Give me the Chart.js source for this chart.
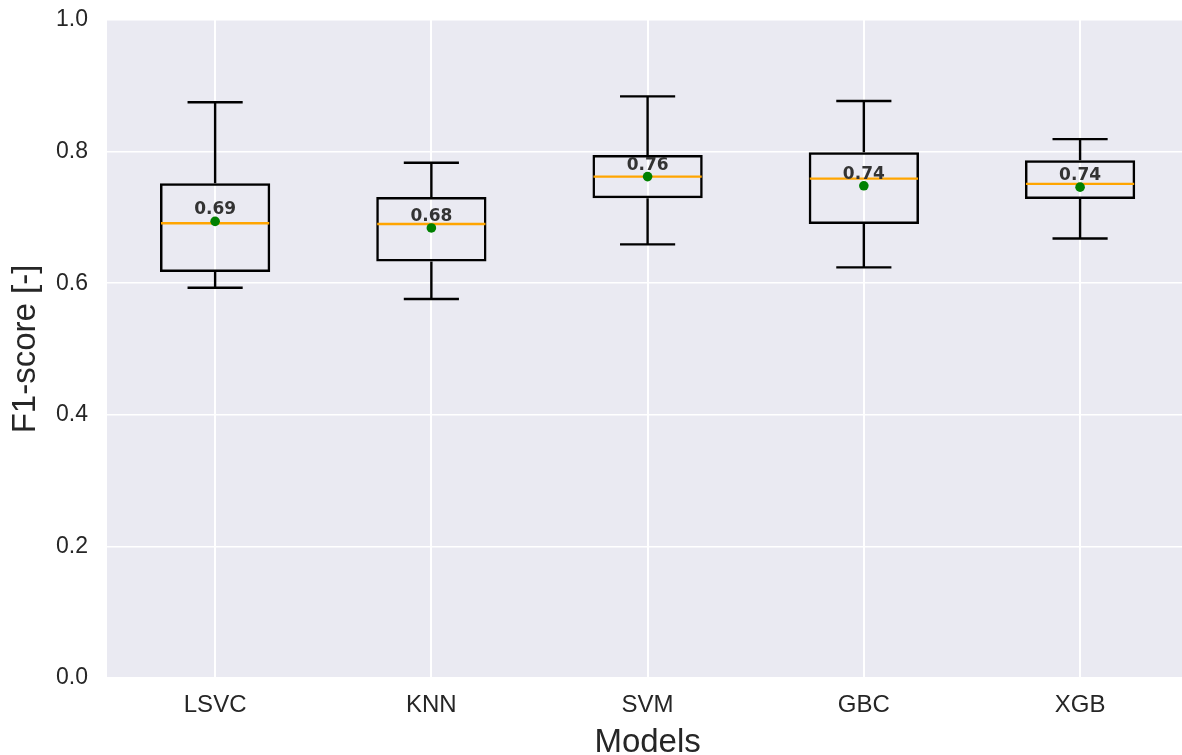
<!DOCTYPE html>
<html>
<head>
<meta charset="utf-8">
<script src="https://cdn.jsdelivr.net/npm/chart.js@4.4.1/dist/chart.umd.min.js"></script>
<style>
html{margin:0;padding:0;overflow:hidden;width:1182px;height:755px;}
body{margin:0;padding:0;background:#ffffff;width:1193px;height:755px;}
#wrap{width:1193px;height:755px;}
canvas{display:block;}
</style>
</head>
<body>
<div id="wrap"><canvas id="c" width="1193" height="755" style="width:1193px;height:755px"></canvas></div>
<script>
const categories = ['LSVC', 'KNN', 'SVM', 'GBC', 'XGB'];
const whiskerLow = [0.593, 0.576, 0.659, 0.624, 0.668];
const q1 = [0.617, 0.633, 0.729, 0.690, 0.728];
const median = [0.691, 0.690, 0.762, 0.759, 0.751];
const q3 = [0.752, 0.731, 0.795, 0.799, 0.787];
const whiskerHigh = [0.875, 0.783, 0.884, 0.877, 0.819];
const means = [0.694, 0.684, 0.762, 0.748, 0.746];
const meanLabels = ['0.69', '0.68', '0.76', '0.74', '0.74'];
const yTicks = [0, 0.2, 0.4, 0.6, 0.8, 1.0];

const bgPlugin = {
  id: 'bg',
  beforeDraw(chart) {
    const {ctx, chartArea: a} = chart;
    ctx.save();
    ctx.fillStyle = '#EAEAF2';
    ctx.fillRect(a.left, a.top, a.right - a.left, a.bottom - a.top);
    ctx.restore();
  }
};

const boxPlugin = {
  id: 'boxparts',
  afterDatasetDraw(chart, args) {
    if (args.index !== 0) return;
    const {ctx} = chart;
    const x = chart.scales.x, y = chart.scales.y;
    const meta = chart.getDatasetMeta(0);
    ctx.save();
    categories.forEach((c, i) => {
      const bar = meta.data[i];
      const cx = x.getPixelForValue(i);
      const w = bar.width;
      const capHalf = w / 4;
      ctx.strokeStyle = '#000000';
      ctx.lineWidth = 2.4;
      ctx.beginPath();
      ctx.moveTo(cx, y.getPixelForValue(q3[i]));
      ctx.lineTo(cx, y.getPixelForValue(whiskerHigh[i]));
      ctx.moveTo(cx, y.getPixelForValue(q1[i]));
      ctx.lineTo(cx, y.getPixelForValue(whiskerLow[i]));
      ctx.moveTo(cx - capHalf, y.getPixelForValue(whiskerHigh[i]));
      ctx.lineTo(cx + capHalf, y.getPixelForValue(whiskerHigh[i]));
      ctx.moveTo(cx - capHalf, y.getPixelForValue(whiskerLow[i]));
      ctx.lineTo(cx + capHalf, y.getPixelForValue(whiskerLow[i]));
      ctx.stroke();
      ctx.strokeStyle = '#FFA500';
      ctx.lineWidth = 2.4;
      ctx.beginPath();
      ctx.moveTo(cx - w / 2 + 1, y.getPixelForValue(median[i]));
      ctx.lineTo(cx + w / 2 - 1, y.getPixelForValue(median[i]));
      ctx.stroke();
    });
    ctx.restore();
  },
  afterDatasetsDraw(chart) {
    const {ctx} = chart;
    const x = chart.scales.x, y = chart.scales.y;
    ctx.save();
    ctx.font = 'bold 17px "DejaVu Sans"';
    ctx.fillStyle = '#333333';
    ctx.textAlign = 'center';
    ctx.textBaseline = 'alphabetic';
    categories.forEach((c, i) => {
      ctx.fillText(meanLabels[i], x.getPixelForValue(i), y.getPixelForValue(means[i]) - 7);
    });
    ctx.restore();
  }
};

new Chart(document.getElementById('c'), {
  type: 'bar',
  data: {
    labels: categories,
    datasets: [
      {
        type: 'bar',
        order: 1,
        data: q1.map((v, i) => [q1[i], q3[i]]),
        backgroundColor: 'rgba(0,0,0,0)',
        borderColor: '#000000',
        borderWidth: 2.5,
        borderSkipped: false,
        categoryPercentage: 1,
        barPercentage: 0.51
      },
      {
        type: 'line',
        order: 0,
        data: means,
        showLine: false,
        pointRadius: 4.8,
        pointBackgroundColor: '#008000',
        pointBorderWidth: 0,
        borderColor: '#008000'
      }
    ]
  },
  options: {
    responsive: false,
    animation: false,
    devicePixelRatio: 1,
    layout: {padding: {top: 20, right: 0, left: 0, bottom: 0}},
    plugins: {legend: {display: false}, tooltip: {enabled: false}},
    scales: {
      x: {
        type: 'category',
        offset: true,
        border: {display: false},
        grid: {color: '#FFFFFF', lineWidth: 2, offset: false, drawTicks: false},
        ticks: {color: '#262626', font: {family: 'Arial, "Liberation Sans"', size: 24}, padding: 13},
        title: {display: true, text: 'Models', color: '#262626', font: {family: 'Arial, "Liberation Sans"', size: 33, lineHeight: 1}, padding: {top: 0, bottom: -4}},
        afterFit(s) { s.height = 77; s.paddingLeft = 0; s.paddingRight = 0; }
      },
      y: {
        min: 0,
        max: 1,
        border: {display: false},
        grid: {color: '#FFFFFF', lineWidth: 1.5, drawTicks: false},
        afterBuildTicks(s) { s.ticks = yTicks.map(v => ({value: v})); },
        ticks: {color: '#262626', font: {family: 'Arial, "Liberation Sans"', size: 23}, padding: 19, callback: v => Number(v).toFixed(1)},
        title: {display: true, text: 'F1-score [-]', color: '#262626', font: {family: 'Arial, "Liberation Sans"', size: 33, lineHeight: 1}, padding: {top: 9, bottom: 0}},
        afterFit(s) { s.width = 107; s.paddingTop = 0; s.paddingBottom = 0; }
      }
    }
  },
  plugins: [bgPlugin, boxPlugin]
});
</script>
</body>
</html>
